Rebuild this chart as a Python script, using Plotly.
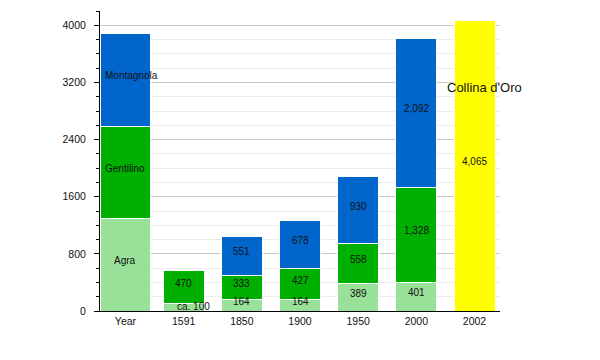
import plotly.graph_objects as go

categories = ["Year", "1591", "1850", "1900", "1950", "2000", "2002"]
agra = [1300, 100, 164, 164, 389, 401, None]
gentilino = [1290, 470, 333, 427, 558, 1328, None]
montagnola = [1300, None, 551, 678, 930, 2092, None]
collina = [None, None, None, None, None, None, 4065]

agra_text = ["Agra", "ca. 100", "164", "164", "389", "401", ""]
gentilino_text = ["Gentilino", "470", "333", "427", "558", "1,328", ""]
montagnola_text = ["Montagnola", "", "551", "678", "930", "2,092", ""]
collina_text = ["", "", "", "", "", "", "4,065"]

bar_widths = [0.876, 0.705, 0.705, 0.705, 0.705, 0.705, 0.705]
xpos = list(range(len(categories)))

series = [
    ("Agra", agra, agra_text, "#99e199"),
    ("Gentilino", gentilino, gentilino_text, "#00b000"),
    ("Montagnola", montagnola, montagnola_text, "#0066cc"),
    ("Collina d'Oro", collina, collina_text, "#ffff00"),
]

FONT = "Liberation Sans, Arial, sans-serif"
fig = go.Figure()
annotations = []
base = [0] * len(categories)
for name, vals, texts, color in series:
    fig.add_trace(go.Bar(
        x=xpos, y=vals, width=bar_widths, name=name,
        marker=dict(color=color, line=dict(color="white", width=1)),
        hoverinfo="skip",
    ))
    for i, (v, t) in enumerate(zip(vals, texts)):
        if v is None:
            continue
        if t:
            ann = dict(x=i, y=base[i] + v / 2, xref="x", yref="y", text=t,
                       showarrow=False, yshift=4,
                       font=dict(family=FONT, size=10, color="#111"))
            if i == 0 and name in ("Gentilino", "Montagnola"):
                ann.update(x=i - bar_widths[0] / 2, xanchor="left", xshift=3)
            if t.startswith("ca."):
                ann.update(xshift=10, yshift=1)
            annotations.append(ann)
        base[i] += v

annotations.append(dict(x=6.18, y=3133, xref="x", yref="y", text="Collina d'Oro",
                        showarrow=False, font=dict(family=FONT, size=13, color="#111")))

fig.update_layout(
    width=600, height=360,
    margin=dict(l=92, r=108, t=3, b=57),
    barmode="stack", showlegend=False,
    paper_bgcolor="white", plot_bgcolor="white",
    font=dict(family=FONT, size=10.5, color="#111"),
    annotations=annotations,
    xaxis=dict(range=[-0.438, 6.438], tickvals=xpos, ticktext=categories,
               showline=True, linecolor="black", linewidth=1, ticks="",
               showgrid=False, zeroline=False, fixedrange=True),
    yaxis=dict(range=[0, 4200], dtick=800, tick0=0, showline=True, linecolor="black",
               linewidth=1, ticks="outside", ticklen=5, tickcolor="black",
               showgrid=True, gridcolor="#c8c8c8", zeroline=False,
               ticklabelstandoff=6,
               minor=dict(dtick=200, ticklen=3, ticks="outside", tickcolor="black",
                          showgrid=True, gridcolor="#ebebeb")),
)

fig.write_html("out.html")
